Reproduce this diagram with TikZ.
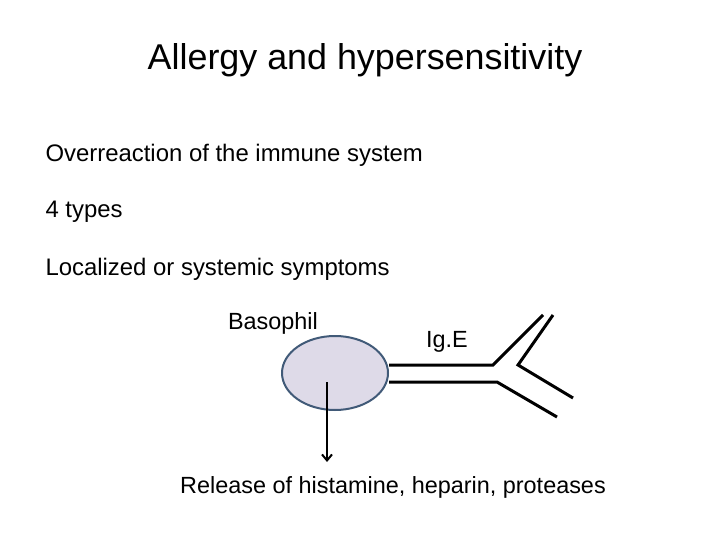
\documentclass[tikz,border=0pt]{standalone}
\usepackage{fontspec}
\setmainfont{Liberation Sans}
\usetikzlibrary{positioning,shapes.geometric,arrows.meta}
\definecolor{cellline}{RGB}{65,90,120}
\definecolor{cellfill}{RGB}{222,218,232}
\tikzset{
  body/.style={anchor=west,font=\fontsize{24}{28}\selectfont},
  lbl/.style={font=\fontsize{23.5}{28}\selectfont},
  chain/.style={line width=3bp,black}
}
\begin{document}
\begin{tikzpicture}[x=1bp,y=-1bp]
\useasboundingbox (0,0) rectangle (720,540);
\node[font=\fontsize{36}{40}\selectfont] (title) at (365,60) {Allergy and hypersensitivity};
\node[body] (l1) at (42,155) {Overreaction of the immune system};
\node[body] (l2) at (42,212) {4 types};
\node[body] (l3) at (42,269) {Localized or systemic symptoms};
\node[lbl] (baso) at (273,323) {Basophil};
\node[lbl] (ige) at (447,342) {Ig.E};
\node[lbl] (rel) at (393,487) {Release of histamine, heparin, proteases};
% basophil cell
\node[draw=cellline,line width=2bp,fill=cellfill,ellipse,minimum width=106bp,minimum height=74bp,inner sep=0pt] (cell) at (335,373) {};
\coordinate (a1) at (493,365);
\coordinate (a2) at (543,315);
\coordinate (b1) at (497,382);
\coordinate (b2) at (557,417);
\coordinate (v1) at (553,315);
\coordinate (v2) at (518,365);
\coordinate (v3) at (573,398);
\coordinate (out) at (327,462);
\draw[chain] (cell.east |- a1) -- (a1) -- (a2);
\draw[chain] (cell.east |- b1) -- (b1) -- (b2);
\draw[chain] (v1) -- (v2) -- (v3);
\draw[line width=2bp,-{Straight Barb[length=6bp,width=10bp]}] (327,382) -- (out);
\end{tikzpicture}
\end{document}
